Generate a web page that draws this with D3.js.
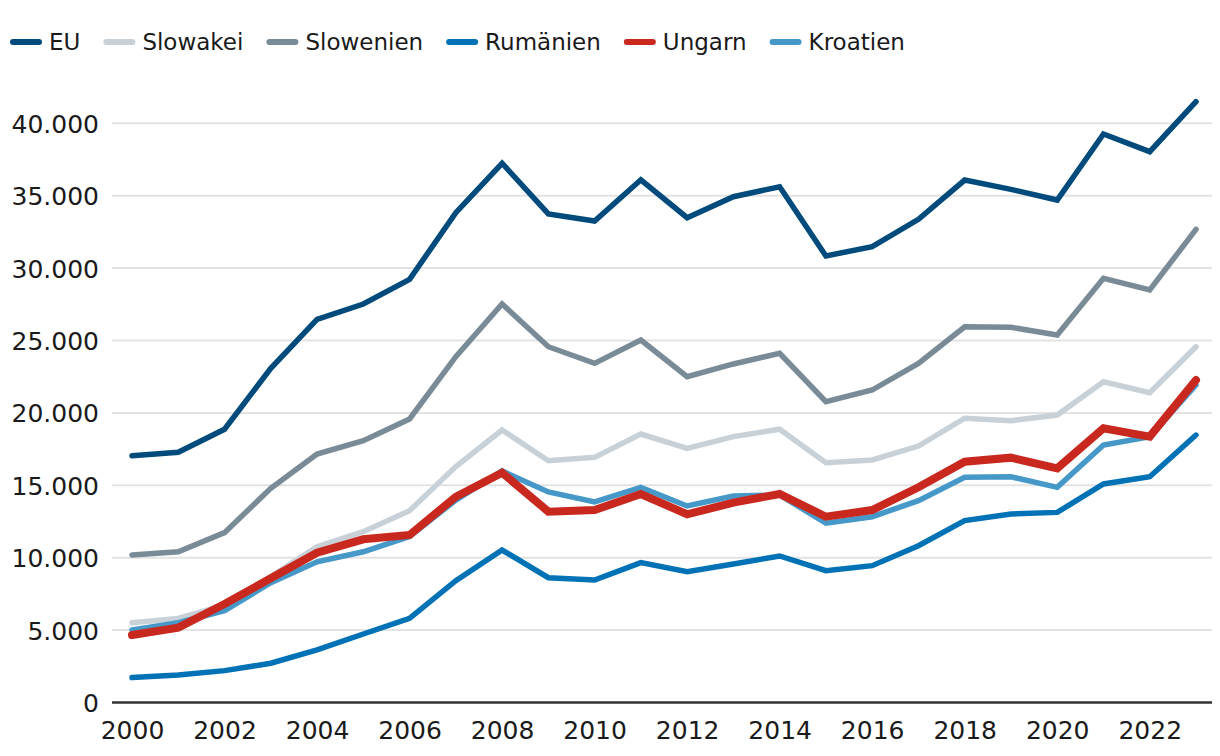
<!DOCTYPE html>
<html>
<head>
<meta charset="utf-8">
<script src="https://cdn.jsdelivr.net/npm/d3@7"></script>
<style>
  html, body { margin: 0; padding: 0; background: #fff; }
  svg { display: block; }
  text { font-family: "DejaVu Sans", sans-serif; fill: #1a1a1a; }
</style>
</head>
<body>
<svg id="chart" width="1220" height="756"></svg>
<script>
const years = d3.range(2000, 2024);
const seriesNames = ["EU", "Slowakei", "Slowenien", "Rumänien", "Ungarn", "Kroatien"];
const seriesColors = ["#004b7c", "#c9d1d8", "#7a8b98", "#0072b5", "#c8281e", "#4698c9"];
const seriesWidths = [5.5, 5.5, 5.5, 5.5, 8, 5.5];

const valuesEU = [17040, 17280, 18870, 23080, 26460, 27520, 29220, 33830, 37240, 33740, 33250, 36100, 33480, 34930, 35620, 30840, 31480, 33370, 36080, 35440, 34700, 39260, 38040, 41490];
const valuesSlowakei = [5510, 5810, 6730, 8690, 10760, 11800, 13250, 16290, 18820, 16700, 16930, 18540, 17550, 18360, 18870, 16560, 16750, 17710, 19630, 19460, 19850, 22150, 21390, 24570];
const valuesSlowenien = [10190, 10410, 11730, 14790, 17160, 18080, 19580, 23880, 27520, 24570, 23420, 25030, 22500, 23380, 24120, 20770, 21580, 23420, 25950, 25910, 25380, 29290, 28490, 32680];
const valuesRumaenien = [1720, 1900, 2200, 2710, 3630, 4730, 5810, 8410, 10530, 8620, 8460, 9660, 9030, 9560, 10120, 9100, 9450, 10830, 12560, 13020, 13130, 15090, 15590, 18470];
const valuesUngarn = [4660, 5170, 6800, 8580, 10350, 11270, 11570, 14210, 15870, 13180, 13290, 14400, 13000, 13800, 14400, 12830, 13290, 14860, 16630, 16910, 16170, 18940, 18360, 22270];
const valuesKroatien = [5010, 5510, 6340, 8270, 9720, 10410, 11460, 13980, 15990, 14540, 13850, 14860, 13570, 14260, 14330, 12380, 12830, 13940, 15550, 15590, 14860, 17780, 18360, 21930];

const yTicks = [0, 5000, 10000, 15000, 20000, 25000, 30000, 35000, 40000];
const xTicks = [2000, 2002, 2004, 2006, 2008, 2010, 2012, 2014, 2016, 2018, 2020, 2022];

const allValues = [valuesEU, valuesSlowakei, valuesSlowenien, valuesRumaenien, valuesUngarn, valuesKroatien];
const series = seriesNames.map((name, i) => ({
  name, color: seriesColors[i], width: seriesWidths[i],
  values: years.map((y, j) => ({ year: y, value: allValues[i][j] }))
}));

const svg = d3.select("#chart");
const x = d3.scaleLinear().domain([2000, 2023]).range([132, 1196]);
const y = d3.scaleLinear().domain([0, 40000]).range([702.5, 123.3]);
const gridLeft = 112, gridRight = 1212;

const locale = d3.formatLocale({ decimal: ",", thousands: ".", grouping: [3], currency: ["", "€"] });
const fmt = locale.format(",d");

// Y axis labels
const yAxis = d3.axisLeft(y).tickValues(yTicks).tickFormat(fmt).tickSize(0).tickPadding(0);
const gY = svg.append("g").attr("transform", `translate(99,0)`).call(yAxis);
gY.select(".domain").remove();
gY.selectAll("text").attr("font-size", 25).attr("font-family", "DejaVu Sans").attr("fill", "#1a1a1a").attr("dy", "0.36em");

// Gridlines
svg.append("g").selectAll("line").data(yTicks.filter(d => d !== 0)).join("line")
  .attr("x1", gridLeft).attr("x2", gridRight)
  .attr("y1", d => y(d)).attr("y2", d => y(d))
  .attr("stroke", "#e3e3e3").attr("stroke-width", 2);

// Baseline
svg.append("line").attr("x1", gridLeft).attr("x2", gridRight)
  .attr("y1", y(0)).attr("y2", y(0))
  .attr("stroke", "#333").attr("stroke-width", 2.5);

// X axis labels
const xAxis = d3.axisBottom(x).tickValues(xTicks).tickFormat(d3.format("d")).tickSize(0).tickPadding(0);
const gX = svg.append("g").attr("transform", `translate(0,${y(0)})`).call(xAxis);
gX.select(".domain").remove();
gX.selectAll("text").attr("font-size", 25).attr("font-family", "DejaVu Sans").attr("fill", "#1a1a1a").attr("dy", null).attr("y", 36);

// Lines
const line = d3.line().x(d => x(d.year)).y(d => y(d.value));
const drawOrder = ["EU", "Slowakei", "Slowenien", "Rumänien", "Kroatien", "Ungarn"];
svg.append("g").selectAll("path").data(drawOrder.map(n => series.find(s => s.name === n))).join("path")
  .attr("d", d => line(d.values))
  .attr("fill", "none")
  .attr("stroke", d => d.color)
  .attr("stroke-width", d => d.width)
  .attr("stroke-linejoin", "miter")
  .attr("stroke-miterlimit", 4)
  .attr("stroke-linecap", "round");

// Legend
const legend = svg.append("g");
let lx = 13;
series.forEach(s => {
  const g = legend.append("g");
  g.append("line").attr("x1", lx).attr("x2", lx + 26).attr("y1", 42).attr("y2", 42)
    .attr("stroke", s.color).attr("stroke-width", 6).attr("stroke-linecap", "round");
  const t = g.append("text").attr("x", lx + 36).attr("y", 50)
    .attr("font-size", 23).attr("font-family", "DejaVu Sans").attr("fill", "#1a1a1a").text(s.name);
  lx = lx + 36 + t.node().getComputedTextLength() + 26;
});
</script>
</body>
</html>
